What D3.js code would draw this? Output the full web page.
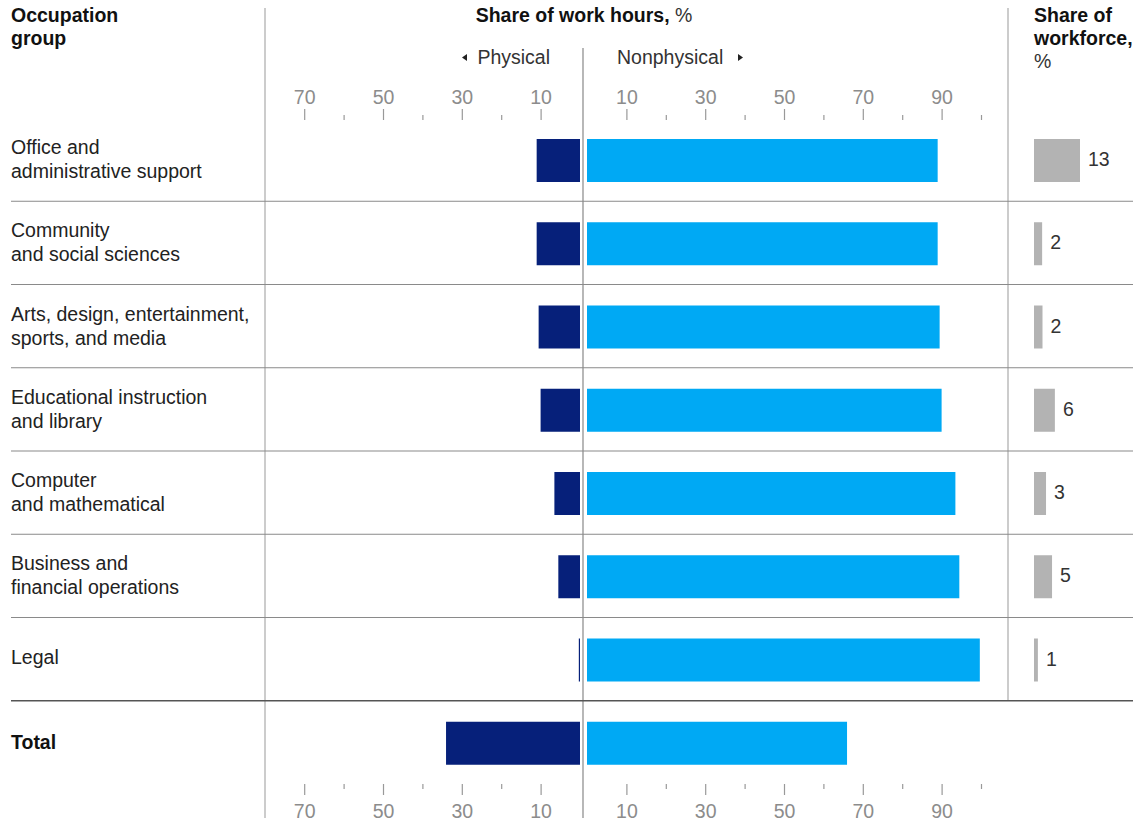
<!DOCTYPE html>
<html>
<head>
<meta charset="utf-8">
<script src="https://cdn.jsdelivr.net/npm/d3@7"></script>
<style>
  html, body { margin: 0; padding: 0; background: #fff; }
  svg { display: block; font-family: "Liberation Sans", Arial, sans-serif; }
</style>
</head>
<body>
<svg id="chart" width="1148" height="821"></svg>
<script>
// ---- Data ----
const categories = [
  ["Office and", "administrative support"],
  ["Community", "and social sciences"],
  ["Arts, design, entertainment,", "sports, and media"],
  ["Educational instruction", "and library"],
  ["Computer", "and mathematical"],
  ["Business and", "financial operations"],
  ["Legal"]
];
const physical    = [11, 11, 10.5, 10, 6.5, 5.5, 0.3];
const nonphysical = [89, 89, 89.5, 90, 93.5, 94.5, 99.7];
const workforce   = [13, 2.3, 2.4, 5.9, 3.4, 5.1, 1.1];
const totalLabel = "Total";
const totalPhysical = 34;
const totalNonphysical = 66;
const physTicks = [10, 20, 30, 40, 50, 60, 70];
const nonTicks  = [10, 20, 30, 40, 50, 60, 70, 80, 90, 100];
const labeledTicks = [10, 30, 50, 70, 90];

// ---- Setup ----
const svg = d3.select("#chart");
const FS = 19.5;
const C_DARK = "#06207a", C_LIGHT = "#00a9f4", C_GREY = "#b3b3b3";

const rowKeys = categories.map((d, i) => "r" + i).concat(["total"]);
const y = d3.scaleBand().domain(rowKeys).range([118, 118 + 8 * 83.25]).padding(0);
const xPhys = d3.scaleLinear().domain([0, 100]).range([580, 580 - 394]);
const xNon  = d3.scaleLinear().domain([0, 100]).range([587, 587 + 394]);
const xWork = d3.scaleLinear().domain([0, 13]).range([1034, 1080]);

// ---- Vertical rules ----
svg.append("line").attr("x1", 265).attr("x2", 265).attr("y1", 8).attr("y2", 818)
  .attr("stroke", "#aaa").attr("stroke-width", 1.2);
svg.append("line").attr("x1", 1008).attr("x2", 1008).attr("y1", 8).attr("y2", 700)
  .attr("stroke", "#aaa").attr("stroke-width", 1.2);
svg.append("line").attr("x1", 583).attr("x2", 583).attr("y1", 48).attr("y2", 818)
  .attr("stroke", "#888").attr("stroke-width", 1.2);

// ---- Row separators ----
categories.forEach((c, i) => {
  if (i < categories.length - 1) {
    const yy = y("r" + i) + y.step();
    svg.append("line").attr("x1", 11).attr("x2", 1133).attr("y1", yy).attr("y2", yy)
      .attr("stroke", "#8a8a8a").attr("stroke-width", 1.2);
  }
});
svg.append("line").attr("x1", 11).attr("x2", 1133)
  .attr("y1", y("total")).attr("y2", y("total"))
  .attr("stroke", "#555").attr("stroke-width", 1.6);

// ---- Headers ----
const hdr = svg.append("g").attr("font-size", FS).attr("fill", "#111");
hdr.append("text").attr("x", 11).attr("y", 22).attr("font-weight", "bold").text("Occupation");
hdr.append("text").attr("x", 11).attr("y", 45).attr("font-weight", "bold").text("group");
const t1 = hdr.append("text").attr("x", 584).attr("y", 22).attr("text-anchor", "middle");
t1.append("tspan").attr("font-weight", "bold").text("Share of work hours,");
t1.append("tspan").attr("fill", "#333").text(" %");
hdr.append("text").attr("x", 1034).attr("y", 22).attr("font-weight", "bold").text("Share of");
hdr.append("text").attr("x", 1034).attr("y", 45).attr("font-weight", "bold").text("workforce,");
hdr.append("text").attr("x", 1034).attr("y", 68).attr("fill", "#333").text("%");

hdr.append("text").attr("x", 550).attr("y", 64).attr("text-anchor", "end").attr("fill", "#333").text("Physical");
hdr.append("text").attr("x", 617).attr("y", 64).attr("fill", "#333").text("Nonphysical");
hdr.append("path").attr("d", "M462,57.5 L467,54 L467,61 Z").attr("fill", "#222");
hdr.append("path").attr("d", "M743,57.5 L738,54 L738,61 Z").attr("fill", "#222");

// ---- Axes ----
function styleAxis(g, dir) {
  g.select(".domain").remove();
  g.selectAll(".tick line")
    .attr("stroke", "#999")
    .attr("stroke-width", 1.2)
    .attr("y2", d => (labeledTicks.includes(d) ? 11 : 5) * dir);
  g.selectAll(".tick text")
    .attr("fill", "#8c8c8c")
    .attr("font-size", FS)
    .attr("font-family", "Liberation Sans, Arial, sans-serif")
    .attr("dy", 0)
    .attr("y", dir < 0 ? -16 : 34)
    .text(d => labeledTicks.includes(d) ? d : "");
}
[["top", 120, -1], ["bottom", 784, 1]].forEach(([pos, ty, dir]) => {
  const mk = pos === "top" ? d3.axisTop : d3.axisBottom;
  svg.append("g").attr("transform", `translate(0,${ty})`)
    .call(mk(xPhys).tickValues(physTicks).tickSize(10))
    .call(g => styleAxis(g, dir));
  svg.append("g").attr("transform", `translate(0,${ty})`)
    .call(mk(xNon).tickValues(nonTicks).tickSize(10))
    .call(g => styleAxis(g, dir));
});

// ---- Row labels ----
const lbl = svg.append("g").attr("font-size", FS).attr("fill", "#222");
categories.forEach((lines, i) => {
  const c = y("r" + i) + y.step() / 2;
  if (lines.length === 2) {
    lbl.append("text").attr("x", 11).attr("y", c - 5.5).text(lines[0]);
    lbl.append("text").attr("x", 11).attr("y", c + 18.5).text(lines[1]);
  } else {
    lbl.append("text").attr("x", 11).attr("y", c + 5).text(lines[0]);
  }
});
lbl.append("text").attr("x", 11).attr("y", y("total") + y.step() / 2 + 7)
  .attr("font-weight", "bold").attr("fill", "#111").text(totalLabel);

// ---- Bars ----
const BAR_OFF = 21, BAR_H = 43;
const rows = categories.map((c, i) => ({ key: "r" + i, p: physical[i], n: nonphysical[i], w: workforce[i] }));
const all = rows.concat([{ key: "total", p: totalPhysical, n: totalNonphysical }]);

svg.append("g").selectAll("rect").data(all).join("rect")
  .attr("x", d => xPhys(d.p)).attr("width", d => Math.max(1, xPhys(0) - xPhys(d.p)))
  .attr("y", d => y(d.key) + BAR_OFF).attr("height", BAR_H).attr("fill", C_DARK);

svg.append("g").selectAll("rect").data(all).join("rect")
  .attr("x", xNon(0)).attr("width", d => xNon(d.n) - xNon(0))
  .attr("y", d => y(d.key) + BAR_OFF).attr("height", BAR_H).attr("fill", C_LIGHT);

// ---- Workforce bars ----
svg.append("g").selectAll("rect").data(rows).join("rect")
  .attr("x", xWork(0)).attr("width", d => xWork(d.w) - xWork(0))
  .attr("y", d => y(d.key) + BAR_OFF).attr("height", BAR_H).attr("fill", C_GREY);
svg.append("g").attr("font-size", FS).attr("fill", "#333")
  .selectAll("text").data(rows).join("text")
  .attr("x", d => xWork(d.w) + 8)
  .attr("y", d => y(d.key) + BAR_OFF + BAR_H / 2 + 5.5)
  .text(d => Math.round(d.w));
</script>
</body>
</html>
